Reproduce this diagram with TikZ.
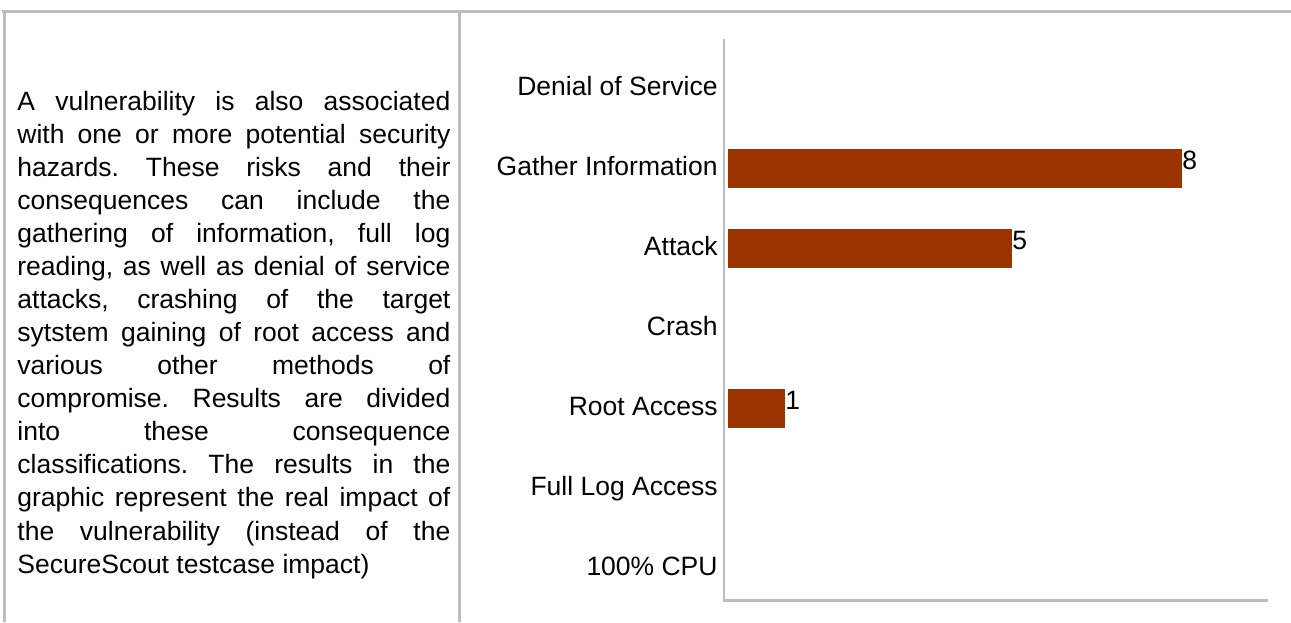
\documentclass[tikz,border=0pt]{standalone}
\usepackage{fontspec}
\setmainfont{Liberation Sans}
\definecolor{rulegray}{HTML}{BDBDBD}
\definecolor{barred}{HTML}{993300}

\begin{document}
\begin{tikzpicture}[x=0.5pt,y=-0.5pt,
	frame/.style={draw=rulegray,line width=1.5pt},
	axis/.style={draw=rulegray,line width=1.4pt},
	cat/.style={anchor=base east,inner sep=0pt,font=\fontsize{13.25}{15}\selectfont},
	val/.style={anchor=base west,inner sep=0pt,font=\fontsize{13.25}{15}\selectfont},
	bar/.style={fill=barred}]
	\useasboundingbox (0,0) rectangle (1291,622);
\draw[frame] (2,11.5) -- (1291,11.5);
\draw[frame] (4.5,11) -- (4.5,622);
\draw[frame] (459.5,11) -- (459.5,622);

\node[anchor=base west,inner sep=0pt,text width=216.5pt,align=justify,
	font=\fontsize{13.25}{16.54}\selectfont] (txt) at (17,110)
	{\frenchspacing\tolerance=10000\hyphenpenalty=10000
	A vulnerability is also associated\linebreak
	with one or more potential security\linebreak
	hazards. These risks and their\linebreak
	consequences can include the\linebreak
	gathering of information, full log\linebreak
	reading, as well as denial of service\linebreak
	attacks, crashing of the target\linebreak
	sytstem gaining of root access and\linebreak
	various other methods of\linebreak
	compromise. Results are divided\linebreak
	into these consequence\linebreak
	classifications. The results in the\linebreak
	graphic represent the real impact of\linebreak
	the vulnerability (instead of the\linebreak
	SecureScout testcase impact)};

% chart
\draw[axis] (724,39) -- (724,601);
\draw[axis] (723,600.5) -- (1268,600.5);

\node[cat] (dos) at (718,95.5) {Denial of Service};
\node[cat] (gather) at (718,175.5) {Gather Information};
\node[cat] (attack) at (718,255.5) {Attack};
\node[cat] (crash) at (718,335.5) {Crash};
\node[cat] (root) at (718,415.5) {Root Access};
\node[cat] (fulllog) at (718,495.5) {Full Log Access};
\node[cat] (cpu) at (718,575.5) {100\% CPU};

\fill[bar] (728,149) rectangle (1182,188);
\fill[bar] (728,229) rectangle (1012,268);
\fill[bar] (728,389) rectangle (785,428);
\node[val] (vgather) at (1182,169) {8};
\node[val] (vattack) at (1012,249) {5};
\node[val] (vroot) at (785,409) {1};

\end{tikzpicture}
\end{document}
